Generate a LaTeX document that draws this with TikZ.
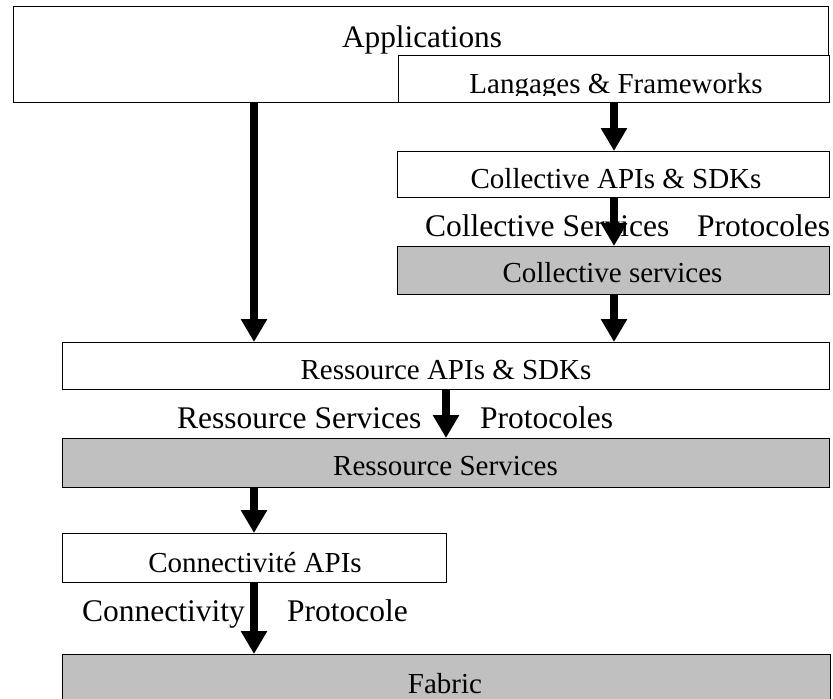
\documentclass[tikz,border=0pt]{standalone}
\usepackage{fontspec}
\setmainfont{Liberation Serif}
\usetikzlibrary{arrows.meta}
\definecolor{layergray}{HTML}{C0C0C0}
\begin{document}
\begin{tikzpicture}[x=1pt,y=-1pt,
  box/.style={draw=black, line width=1.4pt, fill=white, inner sep=0pt, anchor=north west},
  graybox/.style={box, fill=layergray},
  boxtext/.style={inner sep=0pt, font=\fontsize{29}{31}\selectfont},
  freetext/.style={inner sep=0pt, anchor=base west, font=\fontsize{31.5}{33}\selectfont},
  flow/.style={line width=8pt, -{Triangle[length=23pt, width=25pt]}}]
\clip (0,0) rectangle (833,699);

% layer boxes
\node[box, minimum width=815pt, minimum height=96pt] (app) at (13,6) {};
\node[box, minimum width=431pt, minimum height=47pt] (lang) at (397.5,54.5) {};
\node[box, minimum width=432pt, minimum height=46pt] (capi) at (397,151) {};
\node[graybox, minimum width=432pt, minimum height=48pt] (csvc) at (397,246) {};
\node[box, minimum width=767pt, minimum height=47pt] (rapi) at (62,342) {};
\node[graybox, minimum width=767pt, minimum height=48.5pt] (rsvc) at (62,438) {};
\node[box, minimum width=384pt, minimum height=49pt] (capis) at (62,533) {};
\node[graybox, minimum width=768pt, minimum height=80pt] (fabric) at (62,654) {};

% box captions
\node[boxtext, anchor=base, font=\fontsize{31.3}{33}\selectfont] (appT) at (422,47) {Applications};
\begin{scope}
  \clip (399,56) rectangle (827,95);
  \node[boxtext, anchor=base] (langT) at (616,93) {Langages \& Frameworks};
\end{scope}
\node[boxtext, anchor=base] (capiT) at (616,188) {Collective APIs \& SDKs};
\node[boxtext, anchor=base] (csvcT) at (612.5,282.5) {Collective services};
\node[boxtext, anchor=base] (rapiT) at (446,379) {Ressource APIs \& SDKs};
\node[boxtext, anchor=base] (rsvcT) at (445.5,475) {Ressource Services};
\node[boxtext, anchor=base] (capisT) at (255,572) {Connectivité APIs};
\node[boxtext, anchor=base] (fabricT) at (445,693) {Fabric};

% protocol labels between layers
\node[freetext] (cs) at (425,236.5) {Collective Services};
\node[freetext] (cp) at (697,236.5) {Protocoles};
\node[freetext] (rs) at (177,428) {Ressource Services};
\node[freetext] (rp) at (480,428) {Protocoles};
\node[freetext] (ks) at (82,621.5) {Connectivity};
\node[freetext] (kp) at (287,621.5) {Protocole};

% arrow columns
\coordinate (xa) at (254,0);
\coordinate (xb) at (614,0);
\coordinate (xc) at (446,0);

% call flow
\draw[flow] (app.south -| xa) -- (rapi.north -| xa);
\draw[flow] (lang.south -| xb) -- (capi.north -| xb);
\draw[flow] (capi.south -| xb) -- (csvc.north -| xb);
\draw[flow] (csvc.south -| xb) -- (rapi.north -| xb);
\draw[flow] (rapi.south -| xc) -- (rsvc.north -| xc);
\draw[flow] (rsvc.south -| xa) -- (capis.north -| xa);
\draw[flow] (capis.south -| xa) -- (fabric.north -| xa);
\end{tikzpicture}
\end{document}
